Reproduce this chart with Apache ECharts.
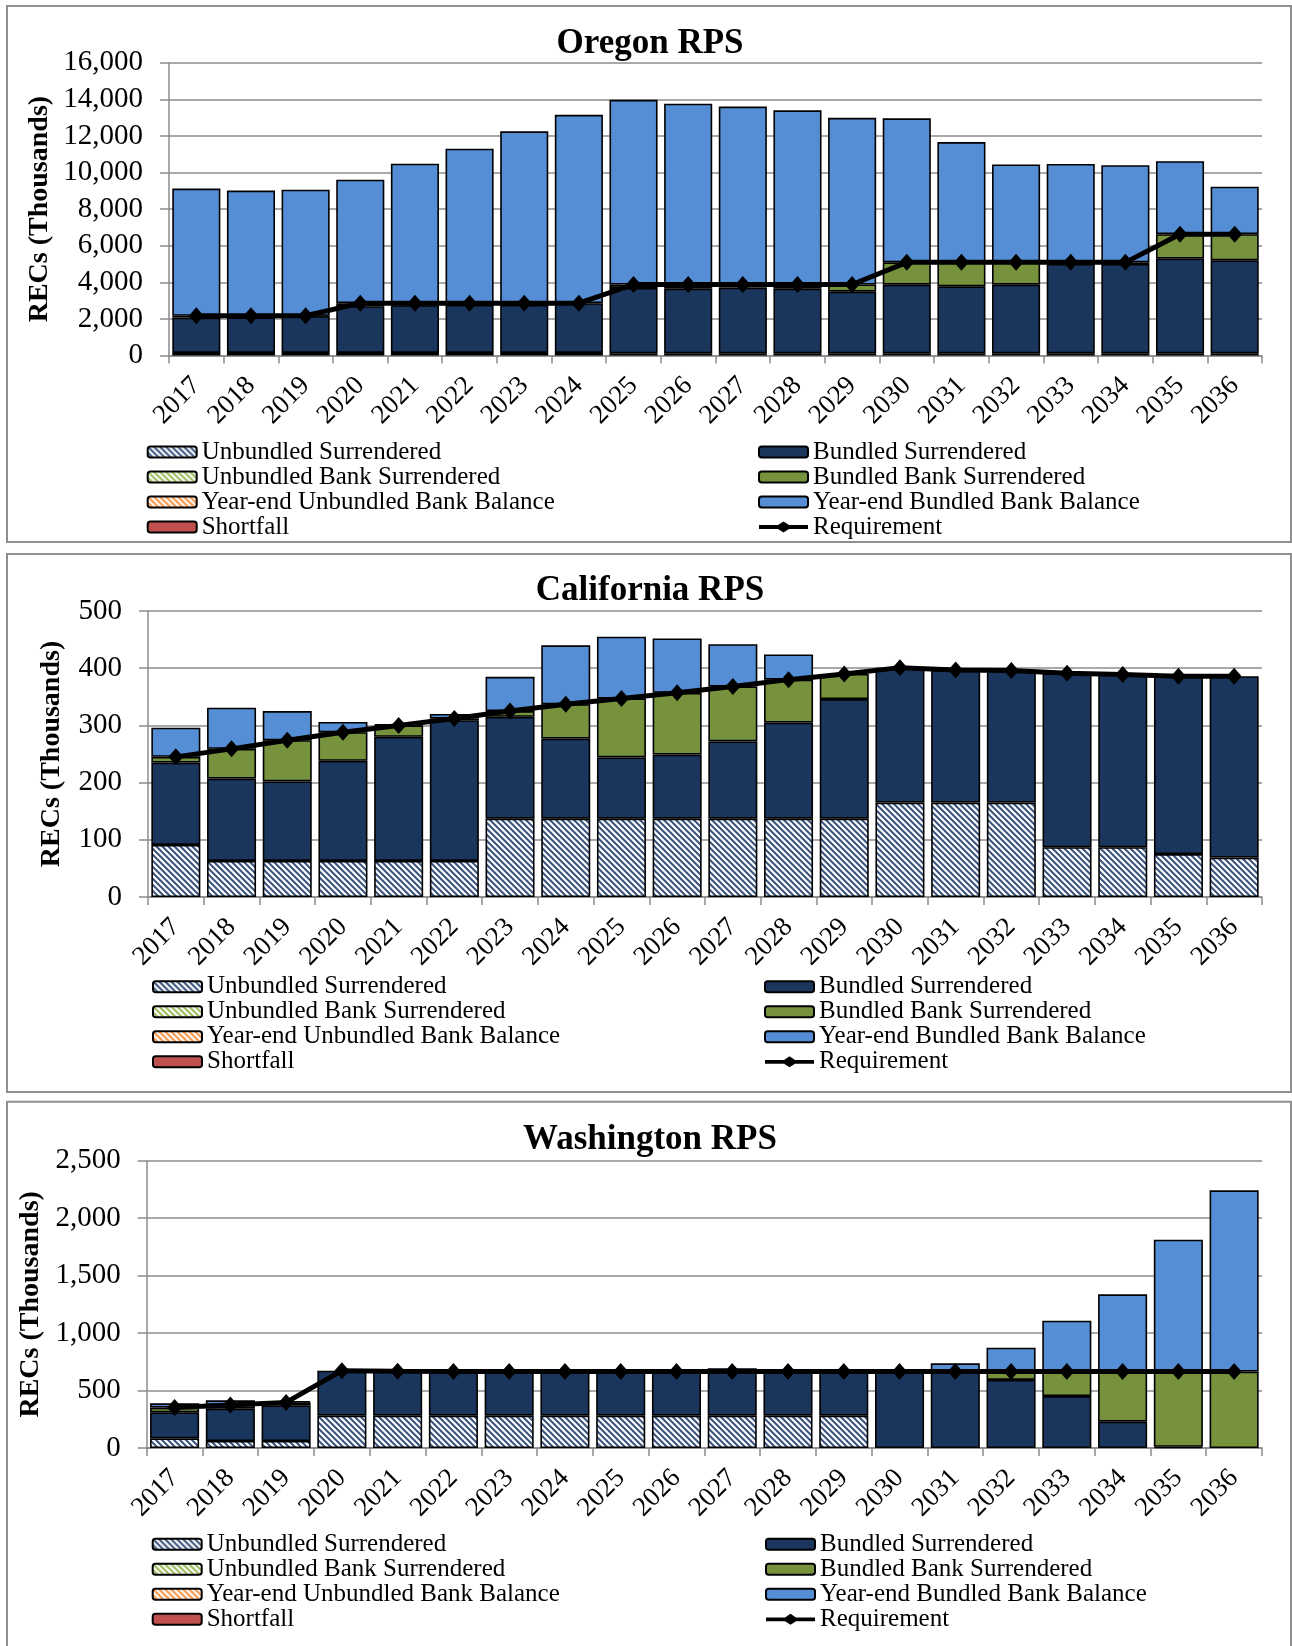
<!DOCTYPE html>
<html>
<head>
<meta charset="utf-8">
<script src="https://cdn.jsdelivr.net/npm/echarts@6/dist/echarts.min.js"></script>
<style>
html, body { margin: 0; padding: 0; background: #ffffff; }
#chart { width: 1292px; height: 1646px; }
</style>
</head>
<body>
<div id="chart"></div>
<script>
// ---- Data (RECs, thousands) ----
const years = ['2017','2018','2019','2020','2021','2022','2023','2024','2025','2026',
               '2027','2028','2029','2030','2031','2032','2033','2034','2035','2036'];

// Oregon RPS
const orUnbundledSurrendered = [140,140,140,140,140,140,140,140,120,120,120,120,120,120,120,120,120,120,120,120];
const orBundledSurrendered   = [1930,1940,2010,2550,2610,2620,2620,2720,3570,3530,3590,3530,3370,3750,3660,3750,4880,4880,5170,5080];
const orUnbundledBank        = [0,0,0,0,0,0,0,0,0,0,0,0,0,0,0,0,0,0,0,0];
const orBundledBank          = [100,90,20,170,110,100,100,0,190,230,170,230,390,1220,1310,1220,90,90,1340,1430];
const orUnbundledBalance     = [0,0,0,0,0,0,0,0,0,0,0,0,0,0,0,0,0,0,0,0];
const orBundledBalance       = [6950,6840,6890,6750,7620,8440,9390,10290,10090,9880,9720,9520,9110,7870,6570,5350,5380,5310,3990,2590];
const orShortfall            = [0,0,0,0,0,0,0,0,0,0,0,0,0,0,0,0,0,0,0,0];
const orRequirement          = [2170,2170,2170,2860,2860,2860,2860,2860,3880,3880,3880,3880,3880,5090,5090,5090,5090,5090,6630,6630];
const orTicks = [0,2000,4000,6000,8000,10000,12000,14000,16000];

// California RPS
const caUnbundledSurrendered = [91,63,63,63,63,63,137,137,137,137,137,137,137,165,165,165,87,87,75,69];
const caBundledSurrendered   = [144,144,139,175,217,246,178,140,107,112,135,168,209,236,232,231,304,302,311,317];
const caUnbundledBank        = [0,0,0,0,0,0,0,0,0,0,0,0,0,0,0,0,0,0,0,0];
const caBundledBank          = [10,52,72,50,20,3,10,60,103,108,96,75,44,0,0,0,0,0,0,0];
const caUnbundledBalance     = [0,0,0,0,0,0,0,0,0,0,0,0,0,0,0,0,0,0,0,0];
const caBundledBalance       = [51,72,51,18,2,8,60,103,108,95,74,44,0,0,0,0,0,0,0,0];
const caShortfall            = [0,0,0,0,0,0,0,0,0,0,0,0,0,0,0,0,0,0,0,0];
const caRequirement          = [245,259,274,288,300,312,325,337,347,357,368,380,390,401,397,396,391,389,386,386];
const caTicks = [0,100,200,300,400,500];

// Washington RPS
const waUnbundledSurrendered = [84,61,61,281,281,281,281,281,281,281,281,281,281,0,0,0,0,0,0,0];
const waBundledSurrendered   = [226,281,310,392,387,385,385,384,384,384,384,384,384,665,665,592,452,229,10,0];
const waUnbundledBank        = [0,0,0,0,0,0,0,0,0,0,0,0,0,0,0,0,0,0,0,0];
const waBundledBank          = [42,32,26,0,0,0,0,0,0,0,0,0,0,0,0,73,213,436,655,665];
const waUnbundledBalance     = [0,0,0,0,0,0,0,0,0,0,0,0,0,0,0,0,0,0,0,0];
const waBundledBalance       = [37,41,9,0,0,0,0,0,0,14,28,14,0,0,72,208,443,672,1148,1577];
const waShortfall            = [0,0,0,0,0,0,0,0,0,0,0,0,0,0,0,0,0,0,0,0];
const waRequirement          = [352,374,397,673,668,666,666,665,665,665,665,665,665,665,665,665,665,665,665,665];
const waTicks = [0,500,1000,1500,2000,2500];

// ---- Styling helpers ----
const FONT = "'Liberation Serif', 'Times New Roman', serif";
const GRID_GRAY = '#8c8c8c';

// diagonal hatch fill used by the unbundled categories
function hatch(color) {
  const c = document.createElement('canvas');
  c.width = 6; c.height = 6;
  const g = c.getContext('2d');
  g.fillStyle = '#ffffff';
  g.fillRect(0, 0, 6, 6);
  g.strokeStyle = color;
  g.lineWidth = 2.1;
  g.beginPath();
  g.moveTo(-1, -1); g.lineTo(7, 7);
  g.moveTo(-4, 2); g.lineTo(4, 10);
  g.moveTo(2, -4); g.lineTo(10, 4);
  g.stroke();
  return { image: c, repeat: 'repeat' };
}

const STYLES = {
  'Unbundled Surrendered':           hatch('#3d5680'),
  'Bundled Surrendered':             '#1b365d',
  'Unbundled Bank Surrendered':      hatch('#9bbb59'),
  'Bundled Bank Surrendered':        '#76923c',
  'Year-end Unbundled Bank Balance': hatch('#f79646'),
  'Year-end Bundled Bank Balance':   '#558ed5',
  'Shortfall':                       '#c0504d'
};

// legend glyph for the requirement line: thick stroke with a diamond marker
const REQ_ICON = 'path://M0,3.6 L19,3.6 L24.5,0 L30,3.6 L49,3.6 L49,7.4 L30,7.4 L24.5,11 L19,7.4 L0,7.4 Z';

const leftLegend  = ['Unbundled Surrendered', 'Unbundled Bank Surrendered', 'Year-end Unbundled Bank Balance', 'Shortfall'];
const rightLegend = ['Bundled Surrendered', 'Bundled Bank Surrendered', 'Year-end Bundled Bank Balance',
                     { name: 'Requirement', icon: REQ_ICON }];

// panel geometry: plot area and legend placement
const panels = [
  { title: 'Oregon RPS', box: [7, 6, 1284, 536], titleY: 44,
    grid: { left: 169, top: 62.7, height: 292.8 }, ticks: orTicks, yNameX: 40,
    legendTop: 439.5, legendLeft: 146.7, legendRight: 758,
    data: [orUnbundledSurrendered, orBundledSurrendered, orUnbundledBank, orBundledBank,
           orUnbundledBalance, orBundledBalance, orShortfall, orRequirement] },
  { title: 'California RPS', box: [7, 554, 1284, 538], titleY: 591,
    grid: { left: 148, top: 611, height: 286 }, ticks: caTicks, yNameX: 52,
    legendTop: 974.3, legendLeft: 152, legendRight: 764,
    data: [caUnbundledSurrendered, caBundledSurrendered, caUnbundledBank, caBundledBank,
           caUnbundledBalance, caBundledBalance, caShortfall, caRequirement] },
  { title: 'Washington RPS', box: [7, 1101.7, 1284, 560], titleY: 1140,
    grid: { left: 146.7, top: 1160.7, height: 287.3 }, ticks: waTicks, yNameX: 31,
    legendTop: 1531.8, legendLeft: 151.7, legendRight: 765,
    data: [waUnbundledSurrendered, waBundledSurrendered, waUnbundledBank, waBundledBank,
           waUnbundledBalance, waBundledBalance, waShortfall, waRequirement] }
];

const barNames = ['Unbundled Surrendered', 'Bundled Surrendered', 'Unbundled Bank Surrendered',
                  'Bundled Bank Surrendered', 'Year-end Unbundled Bank Balance',
                  'Year-end Bundled Bank Balance', 'Shortfall'];

const grids = [], xAxes = [], yAxes = [], series = [], legends = [], graphics = [];

panels.forEach((p, i) => {
  graphics.push({
    type: 'rect', silent: true, z: -10,
    shape: { x: p.box[0], y: p.box[1], width: p.box[2], height: p.box[3] },
    style: { fill: '#ffffff', stroke: '#8f8f8f', lineWidth: 2 }
  });
  graphics.push({
    type: 'text', silent: true, x: 650, y: p.titleY,
    style: { text: p.title, font: "bold 35px " + FONT, fill: '#000', align: 'center', verticalAlign: 'middle' }
  });
  graphics.push({
    type: 'text', silent: true, x: p.yNameX, y: p.grid.top + p.grid.height / 2, rotation: Math.PI / 2,
    style: { text: 'RECs (Thousands)', font: "bold 28px " + FONT, fill: '#000', align: 'center', verticalAlign: 'middle' }
  });

  grids.push({ left: p.grid.left, top: p.grid.top, height: p.grid.height, right: 30, containLabel: false });

  xAxes.push({
    type: 'category', gridIndex: i, data: years, boundaryGap: true,
    axisLine: { show: true, lineStyle: { color: GRID_GRAY, width: 1.5 } },
    axisTick: { show: true, interval: 0, alignWithLabel: false, length: 8, lineStyle: { color: GRID_GRAY, width: 1.5 } },
    axisLabel: { interval: 0, rotate: 45, margin: 26, color: '#000', fontFamily: FONT, fontSize: 27 },
    splitLine: { show: false }
  });

  const t = p.ticks;
  yAxes.push({
    type: 'value', gridIndex: i, min: t[0], max: t[t.length - 1], interval: t[1] - t[0],
    axisLine: { show: true, lineStyle: { color: GRID_GRAY, width: 1.5 } },
    axisTick: { show: true, length: 9, lineStyle: { color: GRID_GRAY, width: 1.5 } },
    axisLabel: { margin: 26, color: '#000', fontFamily: FONT, fontSize: 29,
                 formatter: v => v.toLocaleString('en-US') },
    splitLine: { show: true, lineStyle: { color: GRID_GRAY, width: 1.5 } }
  });

  barNames.forEach((name, k) => {
    series.push({
      type: 'bar', name, xAxisIndex: i, yAxisIndex: i, stack: 'panel' + i,
      barCategoryGap: '12%',
      itemStyle: { color: STYLES[name], borderColor: '#000', borderWidth: 1.6 },
      emphasis: { disabled: true },
      data: p.data[k].map(v => (v === 0 ? '-' : v))
    });
  });

  series.push({
    type: 'line', name: 'Requirement', xAxisIndex: i, yAxisIndex: i, z: 10,
    symbol: 'diamond', symbolSize: [15, 17],
    lineStyle: { color: '#000', width: 5 },
    itemStyle: { color: '#000' },
    emphasis: { disabled: true },
    data: p.data[7]
  });

  const legendCommon = {
    orient: 'vertical', top: p.legendTop, itemWidth: 49, itemHeight: 11, itemGap: 0,
    padding: 0, selectedMode: false, symbolKeepAspect: false,
    textStyle: { color: '#000', fontFamily: FONT, fontSize: 25, lineHeight: 24.5 }
  };
  legends.push(Object.assign({}, legendCommon, { left: p.legendLeft, data: leftLegend }));
  legends.push(Object.assign({}, legendCommon, { left: p.legendRight, data: rightLegend }));
});

const chart = echarts.init(document.getElementById('chart'), null, { renderer: 'canvas' });
chart.setOption({
  animation: false,
  backgroundColor: '#ffffff',
  grid: grids,
  xAxis: xAxes,
  yAxis: yAxes,
  legend: legends,
  graphic: graphics,
  series
});
</script>
</body>
</html>
